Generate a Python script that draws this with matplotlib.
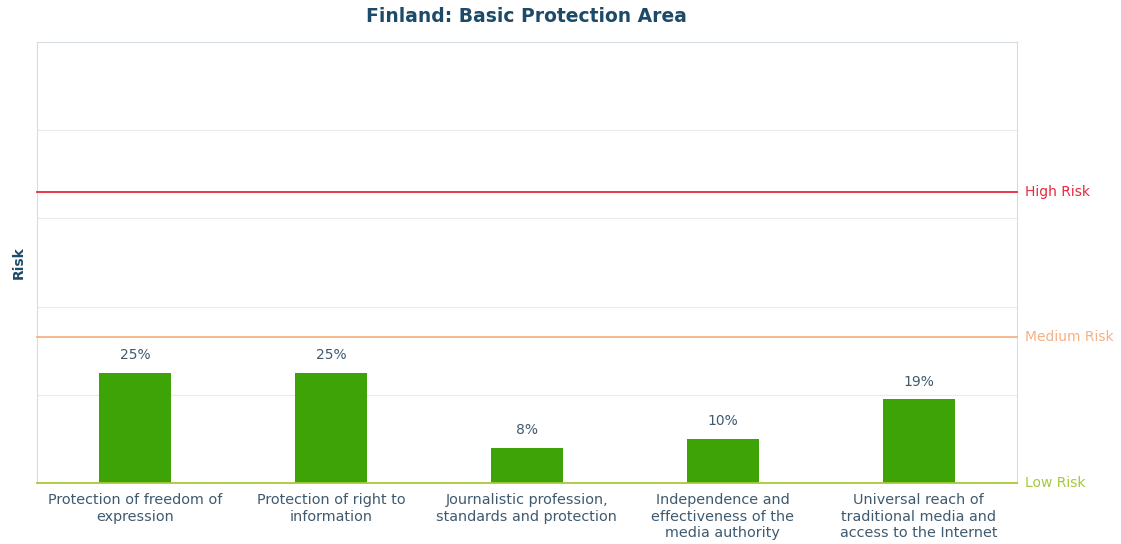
import matplotlib.pyplot as plt

categories = [
    "Protection of freedom of\nexpression",
    "Protection of right to\ninformation",
    "Journalistic profession,\nstandards and protection",
    "Independence and\neffectiveness of the\nmedia authority",
    "Universal reach of\ntraditional media and\naccess to the Internet",
]
risk = [25, 25, 8, 10, 19]

thresholds = [0, 33, 66]
threshold_labels = ["Low Risk", "Medium Risk", "High Risk"]
threshold_colors = ["#a8c83a", "#f4b183", "#e8283c"]

text_color = "#3e5a70"
title_color = "#1d4a68"

fig = plt.figure(figsize=(11.21, 5.44), dpi=100)
ax = fig.add_axes([0.033, 0.112, 0.874, 0.811])

x = range(len(categories))
ax.bar(x, risk, width=0.37, color="#3ea306", zorder=3)
for xi, v in zip(x, risk):
    ax.text(xi, v + 2.4, f"{v}%", ha="center", va="bottom", fontsize=10, color=text_color)

for level, lab, col in zip(thresholds, threshold_labels, threshold_colors):
    ax.axhline(level, color=col, lw=1.3, zorder=4, clip_on=False)
    ax.text(1.008, level, lab, transform=ax.get_yaxis_transform(), ha="left",
            va="center", fontsize=10, color=col)

ax.set_xlim(-0.5, len(categories) - 0.5)
ax.set_ylim(0, 100)
ax.set_yticks([20, 40, 60, 80])
ax.yaxis.grid(True, color="#ebebeb", lw=0.8)
ax.tick_params(axis="y", length=0, labelleft=False)
ax.set_xticks(list(x))
ax.set_xticklabels(categories, fontsize=10.4, color=text_color, linespacing=1.25)
ax.tick_params(axis="x", length=0, pad=7)

for side in ["left", "right", "top"]:
    ax.spines[side].set_color("#d4dde4")
ax.spines["bottom"].set_visible(False)

ax.set_ylabel("Risk", fontsize=10, fontweight="bold", color=title_color, labelpad=8)
ax.set_title("Finland: Basic Protection Area", fontsize=13.5, fontweight="bold",
             color=title_color, pad=14)

fig.savefig("out.png", dpi=100)
